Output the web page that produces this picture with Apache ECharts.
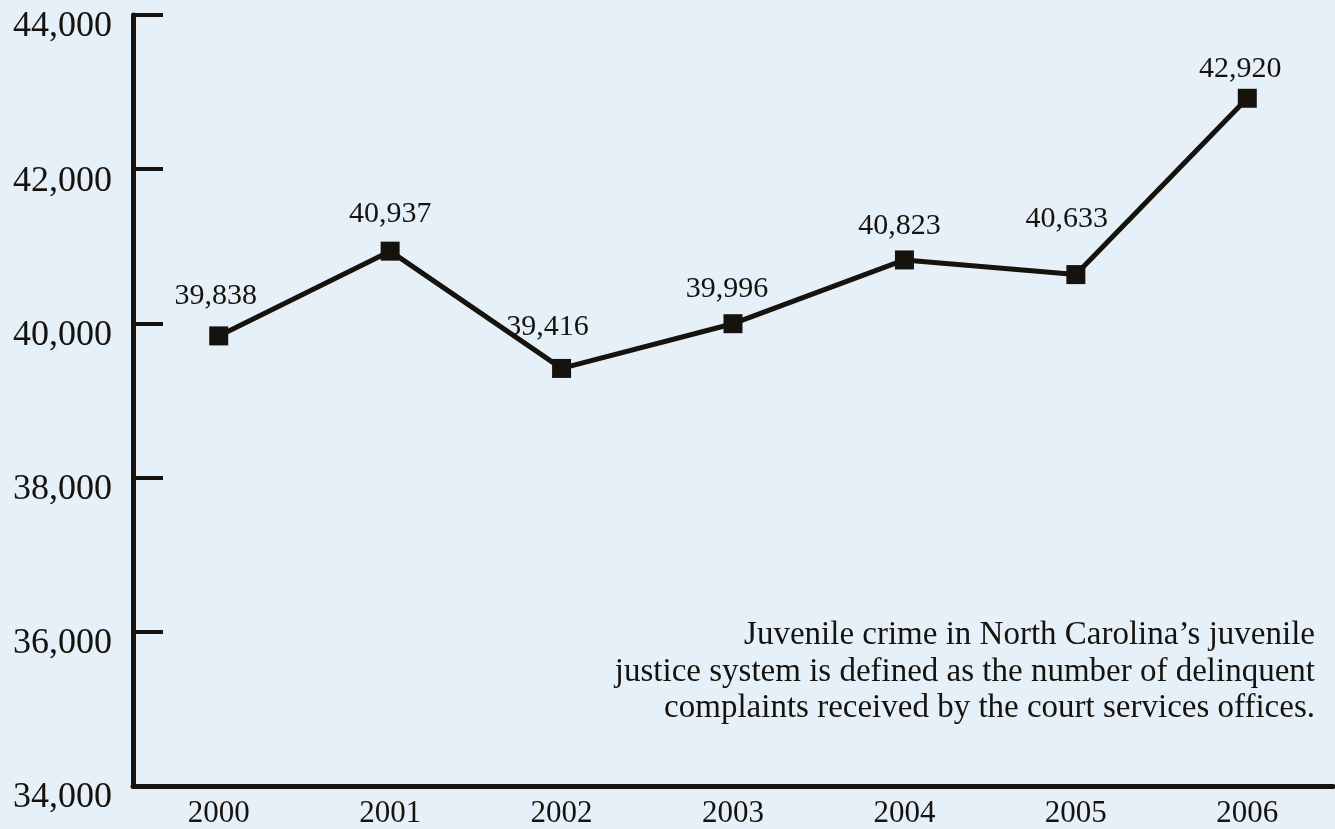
<!DOCTYPE html>
<html>
<head>
<meta charset="utf-8">
<script src="https://cdn.jsdelivr.net/npm/echarts@6/dist/echarts.min.js"></script>
<style>
  html, body { margin: 0; padding: 0; background: #e6f0f9; }
  #chart { width: 1335px; height: 829px; }
</style>
</head>
<body>
<div id="chart"></div>
<script>
var years = ['2000', '2001', '2002', '2003', '2004', '2005', '2006'];
var complaints = [39838, 40937, 39416, 39996, 40823, 40633, 42920];
var yTicks = [34000, 36000, 38000, 40000, 42000, 44000];
var noteLines = [
    'Juvenile crime in North Carolina\u2019s juvenile',
    'justice system is defined as the number of delinquent',
    'complaints received by the court services offices.'
];

function fmt(v) {
    return String(v).replace(/\B(?=(\d{3})+(?!\d))/g, ',');
}

var ink = '#16120d';
var serif = '"Liberation Serif", "Times New Roman", serif';

var myChart = echarts.init(document.getElementById('chart'));

// labels in the original are not placed uniformly above the points
var nudge = {
    0: [-3, -2], 2: [-14, -4], 3: [-6, 3], 4: [-5, 4], 5: [-9, -18], 6: [-7, 8]
};

var option = {
    backgroundColor: '#e6f0f9',
    animation: false,
    grid: { left: 133, right: 2, top: 15, bottom: 43 },
    xAxis: {
        type: 'category',
        data: years,
        boundaryGap: true,
        axisLine: { lineStyle: { color: ink, width: 5 } },
        axisTick: { show: false },
        axisLabel: { color: ink, fontFamily: serif, fontSize: 31, margin: 12 }
    },
    yAxis: {
        type: 'value',
        min: yTicks[0],
        max: yTicks[yTicks.length - 1],
        interval: 2000,
        axisLine: { show: true, lineStyle: { color: ink, width: 5 } },
        axisTick: { show: true, inside: true, length: 30, lineStyle: { color: ink, width: 4 } },
        splitLine: { show: false },
        axisLabel: {
            margin: 21,
            formatter: function (v) { return '{v|' + fmt(v) + '}'; },
            rich: {
                v: { color: ink, fontFamily: serif, fontSize: 36, padding: [24, 0, 0, 0] }
            }
        }
    },
    series: [{
        type: 'line',
        data: complaints.map(function (v, i) {
            var item = { value: v };
            if (nudge[i]) item.label = { offset: nudge[i] };
            return item;
        }),
        symbol: 'rect',
        symbolSize: 19,
        lineStyle: { color: ink, width: 5 },
        itemStyle: { color: ink },
        label: {
            show: true,
            position: 'top',
            distance: 13,
            color: ink,
            fontFamily: serif,
            fontSize: 30,
            formatter: function (p) { return fmt(p.value); }
        }
    }],
    graphic: noteLines.map(function (t, i) {
        return {
            type: 'text',
            right: 20,
            top: 619 + i * 36.5,
            style: {
                text: t,
                fill: ink,
                font: '33px ' + serif,
                textAlign: 'right'
            }
        };
    })
};

myChart.setOption(option);
</script>
</body>
</html>
